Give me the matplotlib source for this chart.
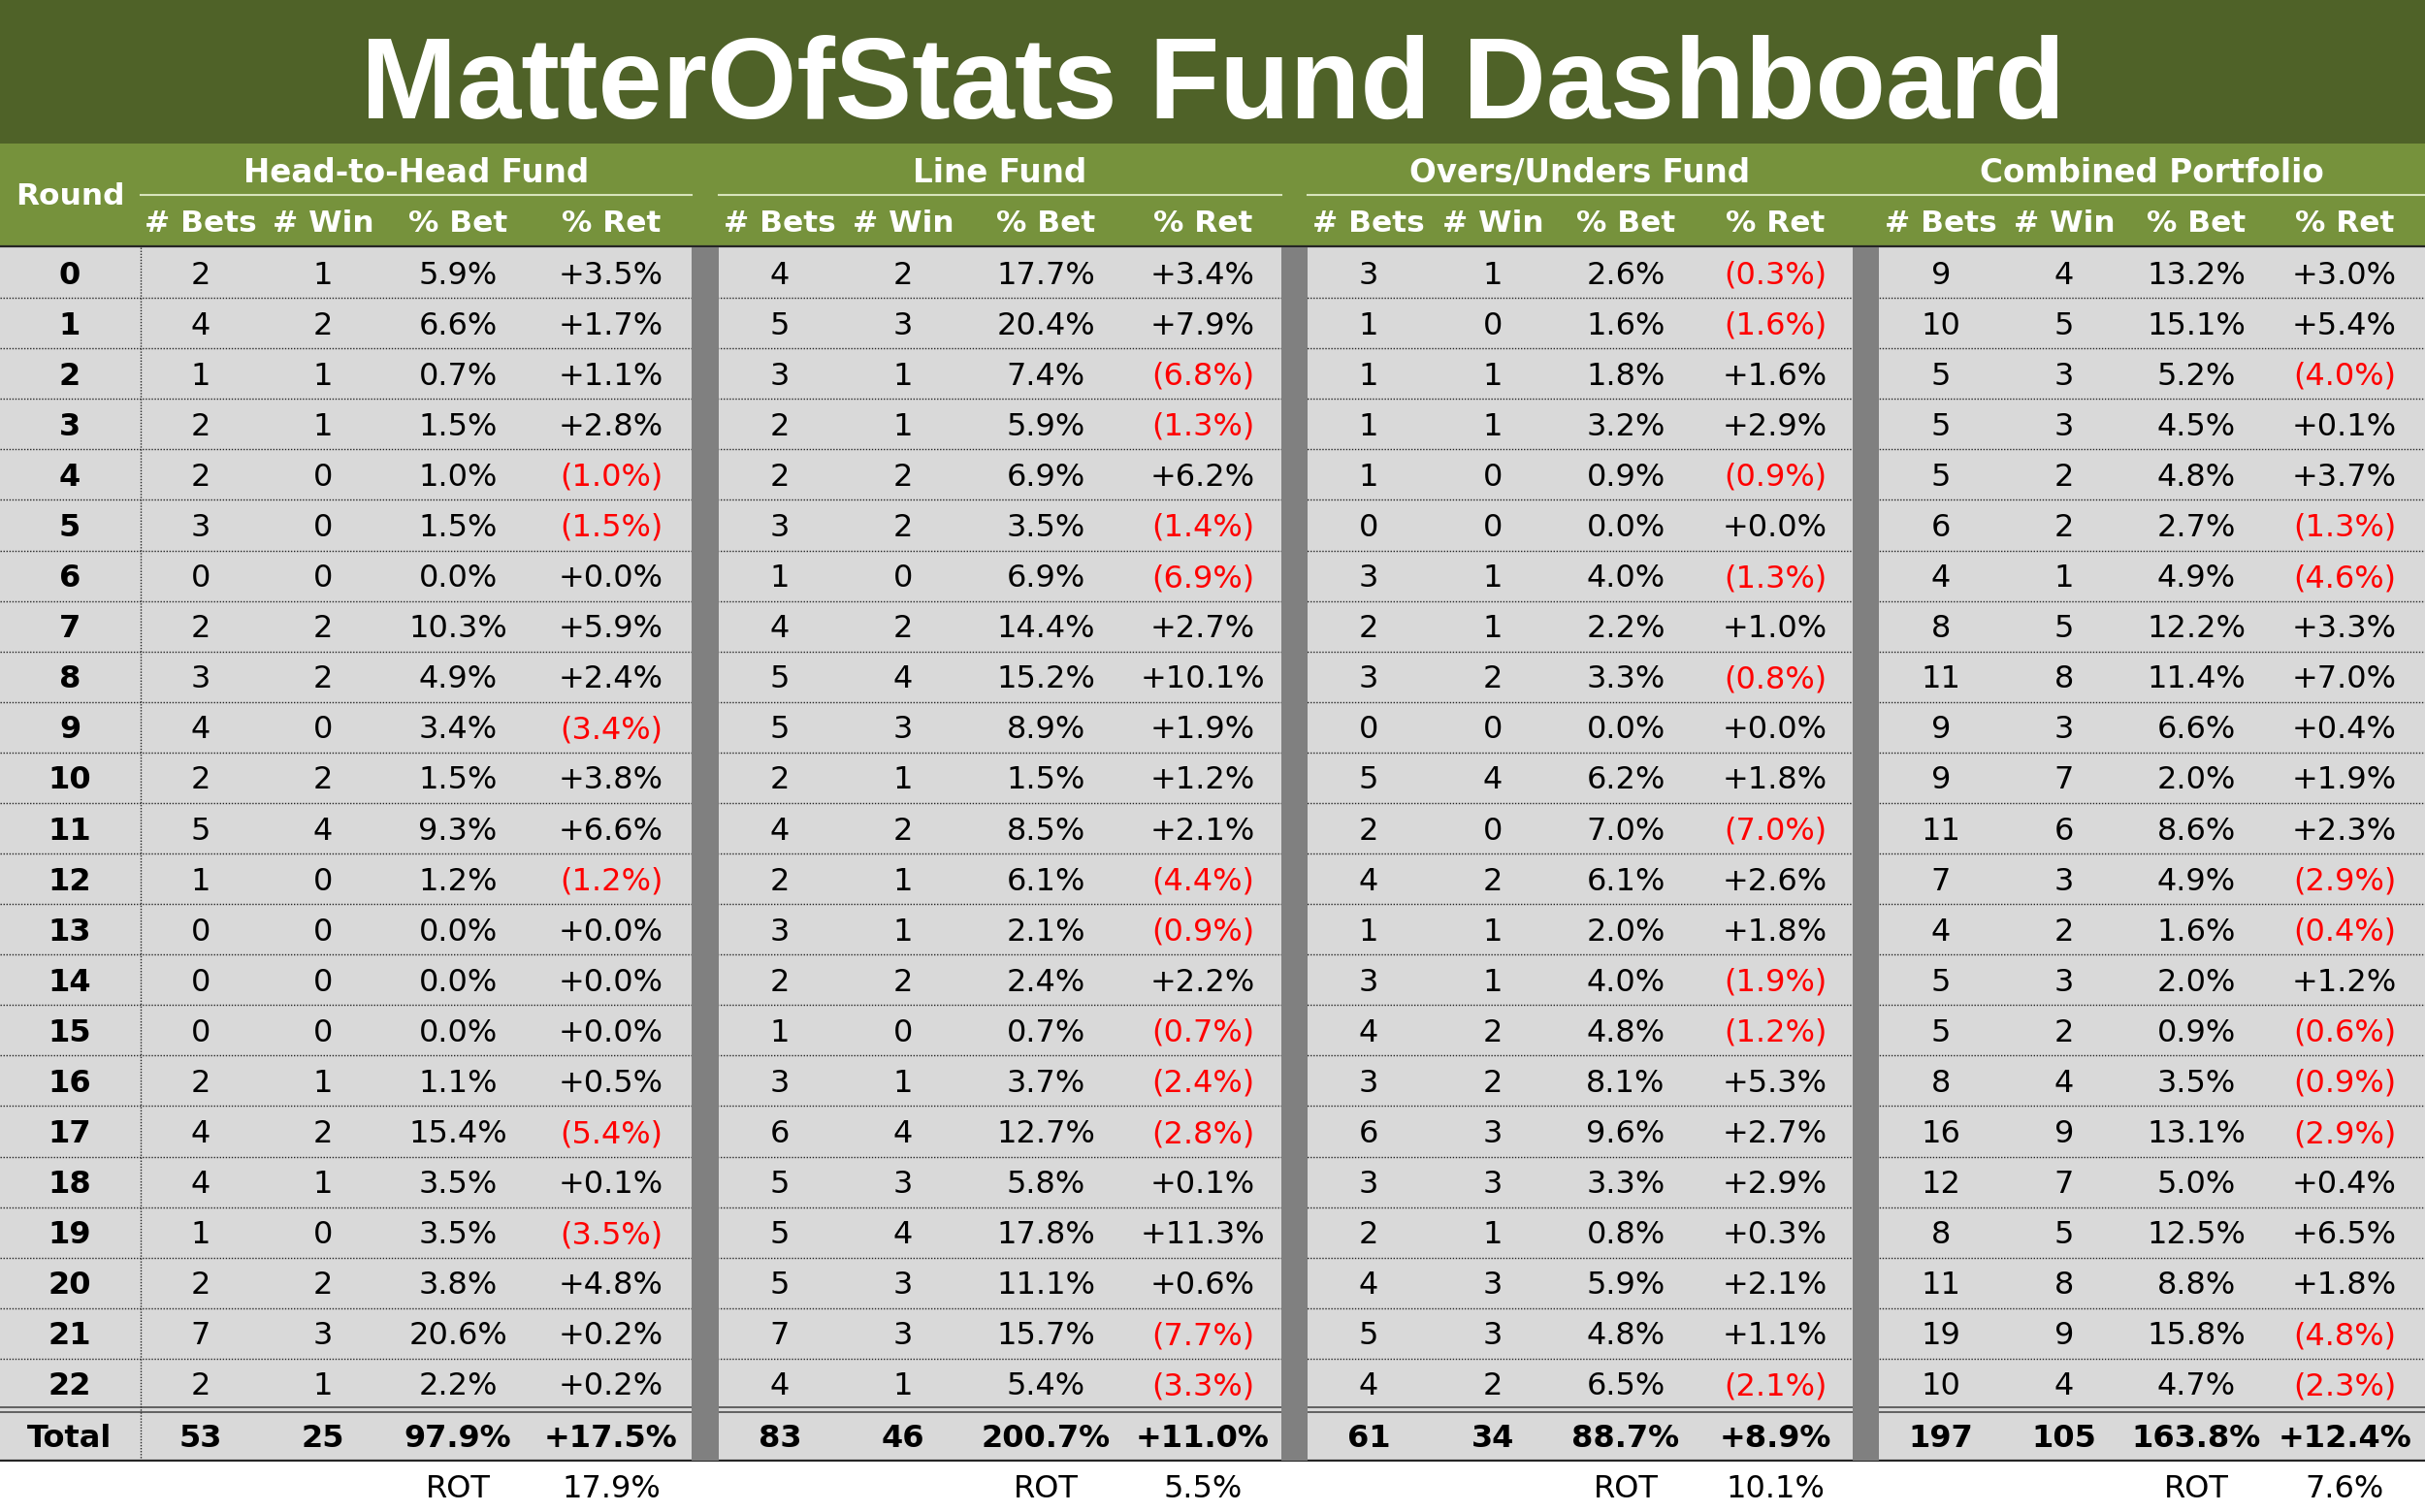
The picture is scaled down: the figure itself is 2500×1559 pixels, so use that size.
import matplotlib
matplotlib.use("Agg")
import matplotlib.pyplot as plt
from matplotlib.patches import Rectangle

# ---------------- data ----------------
rounds = [str(i) for i in range(23)]

h2h_bets = [2, 4, 1, 2, 2, 3, 0, 2, 3, 4, 2, 5, 1, 0, 0, 0, 2, 4, 4, 1, 2, 7, 2]
h2h_win = [1, 2, 1, 1, 0, 0, 0, 2, 2, 0, 2, 4, 0, 0, 0, 0, 1, 2, 1, 0, 2, 3, 1]
h2h_pbet = [5.9, 6.6, 0.7, 1.5, 1.0, 1.5, 0.0, 10.3, 4.9, 3.4, 1.5, 9.3, 1.2, 0.0, 0.0, 0.0,
            1.1, 15.4, 3.5, 3.5, 3.8, 20.6, 2.2]
h2h_ret = [3.5, 1.7, 1.1, 2.8, -1.0, -1.5, 0.0, 5.9, 2.4, -3.4, 3.8, 6.6, -1.2, 0.0, 0.0, 0.0,
           0.5, -5.4, 0.1, -3.5, 4.8, 0.2, 0.2]

line_bets = [4, 5, 3, 2, 2, 3, 1, 4, 5, 5, 2, 4, 2, 3, 2, 1, 3, 6, 5, 5, 5, 7, 4]
line_win = [2, 3, 1, 1, 2, 2, 0, 2, 4, 3, 1, 2, 1, 1, 2, 0, 1, 4, 3, 4, 3, 3, 1]
line_pbet = [17.7, 20.4, 7.4, 5.9, 6.9, 3.5, 6.9, 14.4, 15.2, 8.9, 1.5, 8.5, 6.1, 2.1, 2.4, 0.7,
             3.7, 12.7, 5.8, 17.8, 11.1, 15.7, 5.4]
line_ret = [3.4, 7.9, -6.8, -1.3, 6.2, -1.4, -6.9, 2.7, 10.1, 1.9, 1.2, 2.1, -4.4, -0.9, 2.2, -0.7,
            -2.4, -2.8, 0.1, 11.3, 0.6, -7.7, -3.3]

ou_bets = [3, 1, 1, 1, 1, 0, 3, 2, 3, 0, 5, 2, 4, 1, 3, 4, 3, 6, 3, 2, 4, 5, 4]
ou_win = [1, 0, 1, 1, 0, 0, 1, 1, 2, 0, 4, 0, 2, 1, 1, 2, 2, 3, 3, 1, 3, 3, 2]
ou_pbet = [2.6, 1.6, 1.8, 3.2, 0.9, 0.0, 4.0, 2.2, 3.3, 0.0, 6.2, 7.0, 6.1, 2.0, 4.0, 4.8,
           8.1, 9.6, 3.3, 0.8, 5.9, 4.8, 6.5]
ou_ret = [-0.3, -1.6, 1.6, 2.9, -0.9, 0.0, -1.3, 1.0, -0.8, 0.0, 1.8, -7.0, 2.6, 1.8, -1.9, -1.2,
          5.3, 2.7, 2.9, 0.3, 2.1, 1.1, -2.1]

comb_bets = [9, 10, 5, 5, 5, 6, 4, 8, 11, 9, 9, 11, 7, 4, 5, 5, 8, 16, 12, 8, 11, 19, 10]
comb_win = [4, 5, 3, 3, 2, 2, 1, 5, 8, 3, 7, 6, 3, 2, 3, 2, 4, 9, 7, 5, 8, 9, 4]
comb_pbet = [13.2, 15.1, 5.2, 4.5, 4.8, 2.7, 4.9, 12.2, 11.4, 6.6, 2.0, 8.6, 4.9, 1.6, 2.0, 0.9,
             3.5, 13.1, 5.0, 12.5, 8.8, 15.8, 4.7]
comb_ret = [3.0, 5.4, -4.0, 0.1, 3.7, -1.3, -4.6, 3.3, 7.0, 0.4, 1.9, 2.3, -2.9, -0.4, 1.2, -0.6,
            -0.9, -2.9, 0.4, 6.5, 1.8, -4.8, -2.3]

fund_names = ["Head-to-Head Fund", "Line Fund", "Overs/Unders Fund", "Combined Portfolio"]
sub_headers = ["# Bets", "# Win", "% Bet", "% Ret"]

total_bets = [53, 83, 61, 197]
total_win = [25, 46, 34, 105]
total_pbet = [97.9, 200.7, 88.7, 163.8]
total_ret = [17.5, 11.0, 8.9, 12.4]
rot_values = [17.9, 5.5, 10.1, 7.6]

title = "MatterOfStats Fund Dashboard"

# ---------------- layout ----------------
W, H = 2500, 1559
TITLE_BOT = 148
HEAD_BOT = 254
ROW_TOP = 255
N = len(rounds)
ROW_H = (1453 - ROW_TOP) / N
TOT_TOP = 1453
TOT_BOT = 1506
ROT_Y = 1533

DARK_GREEN = "#4f6228"
MID_GREEN = "#76923c"
CELL_BG = "#d9d9d9"
SEP_GRAY = "#808080"
RED = "#ff0000"

groups = [(145, 713), (741, 1321), (1348, 1910), (1937, 2500)]
seps = [(713, 741), (1321, 1348), (1910, 1937)]
col_x = [
    [207, 333, 472, 630],
    [804, 931, 1078, 1240],
    [1411, 1539, 1676, 1830],
    [2001, 2128, 2264, 2417],
]
ROUND_X = 72

DATA_FONT = "DejaVu Sans"
FS = 23.0      # data font size (pt @100dpi)
HFS = 22.5     # sub-header font size
GFS = 23.5     # group header font size

fig = plt.figure(figsize=(W / 100, H / 100), dpi=100)
ax = fig.add_axes([0, 0, 1, 1])
ax.set_xlim(0, W)
ax.set_ylim(H, 0)
ax.axis("off")

# backgrounds
ax.add_patch(Rectangle((0, 0), W, TITLE_BOT, color=DARK_GREEN, zorder=1, lw=0))
ax.add_patch(Rectangle((0, TITLE_BOT), W, HEAD_BOT - TITLE_BOT, color=MID_GREEN, zorder=1, lw=0))
ax.add_patch(Rectangle((0, ROW_TOP), W, TOT_BOT - ROW_TOP, color=CELL_BG, zorder=1, lw=0))

# row dotted separators
for k in range(1, N):
    y = ROW_TOP + k * ROW_H
    ax.plot([0, W], [y, y], color="#262626", lw=1.0, ls=(0, (1, 1.2)), zorder=2)
# double line above totals
ax.plot([0, W], [TOT_TOP - 2.5, TOT_TOP - 2.5], color="#404040", lw=1.1, zorder=2)
ax.plot([0, W], [TOT_TOP + 2.5, TOT_TOP + 2.5], color="#404040", lw=1.1, zorder=2)
# header bottom & total bottom
ax.plot([0, W], [HEAD_BOT, HEAD_BOT], color="#262626", lw=1.6, zorder=3)
ax.plot([0, W], [TOT_BOT, TOT_BOT], color="#262626", lw=1.6, zorder=3)
# vertical dotted line after Round column
ax.plot([145, 145], [ROW_TOP, TOT_BOT], color="#262626", lw=1.0, ls=(0, (1, 1.2)), zorder=2)

# gray separators
for x0, x1 in seps:
    ax.add_patch(Rectangle((x0, ROW_TOP), x1 - x0, TOT_BOT - ROW_TOP, color=SEP_GRAY, zorder=4, lw=0))

# group underline in header
ul_spans = [(145, 713), (741, 1321), (1348, 2500)]
for x0, x1 in ul_spans:
    ax.plot([x0, x1], [201, 201], color="#d8e4bc", lw=1.5, zorder=3)

# title (baseline at the bottom of the capitals)
t = ax.text(1250, 122, title, ha="center", va="baseline", color="white",
            fontsize=88, fontweight="bold", family=["Liberation Sans", "DejaVu Sans"], zorder=5)
fig.canvas.draw()
bb = t.get_window_extent()
target_w = 1757
t.set_fontsize(88 * target_w / bb.width)

# headers
ax.text(ROUND_X, 202, "Round", ha="center", va="center", color="white", fontsize=HFS,
        fontweight="bold", family=DATA_FONT, zorder=5)
for g, name in enumerate(fund_names):
    gx = (groups[g][0] + groups[g][1]) / 2
    ax.text(gx, 178, name, ha="center", va="center", color="white", fontsize=GFS,
            fontweight="bold", family=DATA_FONT, zorder=5)
    for c, sh in enumerate(sub_headers):
        ax.text(col_x[g][c], 230, sh, ha="center", va="center", color="white", fontsize=HFS,
                fontweight="bold", family=DATA_FONT, zorder=5)

BASE_OFF = 0.36 * FS * 100 / 72  # baseline offset from row centre (px)


def put(x, yc, s, color="black", bold=False):
    ax.text(x, yc + BASE_OFF, s, ha="center", va="baseline", color=color, fontsize=FS,
            fontweight="bold" if bold else "normal", family=DATA_FONT, zorder=5)


def ret_str(v):
    if v < 0:
        return "({:.1f}%)".format(-v), RED
    return "+{:.1f}%".format(v), "black"


series = [
    (h2h_bets, h2h_win, h2h_pbet, h2h_ret),
    (line_bets, line_win, line_pbet, line_ret),
    (ou_bets, ou_win, ou_pbet, ou_ret),
    (comb_bets, comb_win, comb_pbet, comb_ret),
]

for i, r in enumerate(rounds):
    yc = ROW_TOP + (i + 0.5) * ROW_H
    put(ROUND_X, yc, r, bold=True)
    for g, (b, w, pb, rt) in enumerate(series):
        put(col_x[g][0], yc, str(b[i]))
        put(col_x[g][1], yc, str(w[i]))
        put(col_x[g][2], yc, "{:.1f}%".format(pb[i]))
        s, col = ret_str(rt[i])
        put(col_x[g][3], yc, s, color=col)

# totals
yc = (TOT_TOP + TOT_BOT) / 2 + 1
put(ROUND_X, yc, "Total", bold=True)
for g in range(4):
    put(col_x[g][0], yc, str(total_bets[g]), bold=True)
    put(col_x[g][1], yc, str(total_win[g]), bold=True)
    put(col_x[g][2], yc, "{:.1f}%".format(total_pbet[g]), bold=True)
    s, col = ret_str(total_ret[g])
    put(col_x[g][3], yc, s, color=col, bold=True)

# ROT row
for g in range(4):
    put(col_x[g][2], ROT_Y, "ROT")
    put(col_x[g][3], ROT_Y, "{:.1f}%".format(rot_values[g]))

fig.savefig("out.png", dpi=100, facecolor="white")
